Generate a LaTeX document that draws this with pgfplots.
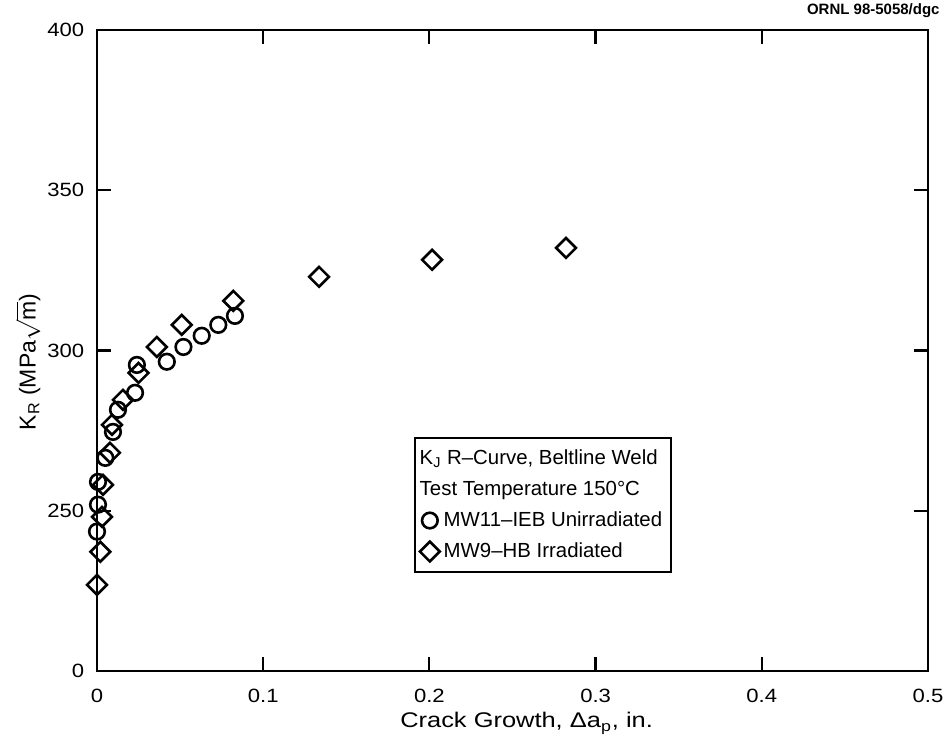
\documentclass[border=0pt]{standalone}
\usepackage{fontspec}
\setmainfont{Liberation Sans}
\newfontfamily\widefont{Liberation Sans}[FakeStretch=1.15]
\newfontfamily\labfont{Liberation Sans}[FakeStretch=1.2]
\usepackage{pgfplots}
\pgfplotsset{compat=1.18}

% legend image: a single mark, no line
\pgfplotsset{onemark/.style={legend image code/.code={\draw[##1] plot coordinates {(0pt,0pt)};}}}

% K_R resistance curves: unirradiated vs irradiated weld
\pgfplotstableread{
da      KR
0.0000  243.5
0.0006  251.9
0.0006  259.0
0.0050  266.5
0.0096  274.6
0.0126  281.5
0.0229  286.8
0.0240  295.5
0.0420  296.5
0.0520  301.1
0.0630  304.6
0.0730  308.0
0.0830  310.8
}\unirr

\pgfplotstableread{
da      KR
0.0000  226.9
0.0020  237.2
0.0030  248.1
0.0036  258.1
0.0078  268.1
0.0090  276.8
0.0156  284.6
0.0250  293.0
0.0360  301.1
0.0510  308.0
0.0820  315.5
0.1336  323.0
0.2016  328.3
0.2822  332.0
}\irr

\begin{document}
\fontsize{11}{13}\selectfont
\begin{tikzpicture}
\begin{axis}[
  scale only axis,
  width=415.5pt, height=320.5pt,
  xmin=0, xmax=0.5, ymin=200, ymax=400,
  xtick={0,0.1,0.2,0.3,0.4,0.5},
  xticklabels={0,0.1,0.2,0.3,0.4,0.5},
  ytick={200,250,300,350,400},
  yticklabels={0,250,300,350,400},
  /pgf/number format/assume math mode=true,
  tick align=inside,
  major tick length=7pt,
  axis line style={line width=1.1pt},
  every tick/.style={line width=1.1pt, black},
  ticklabel style={font=\widefont\fontsize{9.6}{11}\selectfont},
  xticklabel style={yshift=-5pt},
  yticklabel style={xshift=-2.5pt},
  xlabel={Crack Growth, Δa\textsubscript{p}, in.},
  ylabel={K\textsubscript{R} (MPa$\sqrt{\hbox{m}}$)},
  every axis x label/.style={at={(axis description cs:0.517,-0.0889)}, anchor=base,
    font=\labfont\fontsize{10.6}{13}\selectfont},
  every axis y label/.style={at={(axis description cs:-0.083,0.482)}, rotate=90, anchor=center,
    font=\fontsize{11.5}{13}\selectfont},
  legend cell align=left,
  legend style={
    at={(axis cs:0.1907,273)}, anchor=north west,
    draw=black, line width=1pt,
    font=\fontsize{10.2}{12}\selectfont,
    inner xsep=2.5pt, inner ysep=3pt,
    row sep=1pt,
    nodes={text height=8pt, text depth=2.5pt, inner sep=2pt},
  },
]
\addlegendimage{empty legend}
\addlegendentry{\hspace*{-12pt}K\textsubscript{J} R–Curve, Beltline Weld}
\addlegendimage{empty legend}
\addlegendentry{\hspace*{-12pt}Test Temperature 150°C}

\addplot[only marks, mark=o, mark size=3.9pt,
  mark options={line width=1.3pt, black}, onemark]
  table[x=da, y=KR] {\unirr};
\addlegendentry{MW11–IEB Unirradiated}

\addplot[only marks, mark=square, mark size=3.5pt,
  mark options={line width=1.3pt, black, rotate=45}, onemark]
  table[x=da, y=KR] {\irr};
\addlegendentry{MW9–HB Irradiated}

\coordinate (sw) at (rel axis cs:0,0);
\coordinate (ne) at (rel axis cs:1,1);
\end{axis}
\node[anchor=north east, inner sep=0pt, font=\fontsize{7.5}{9}\bfseries]
  at ([shift={(6pt,13.5pt)}]ne) {ORNL 98-5058/dgc};
\pgfresetboundingbox
\useasboundingbox ([shift={(-48.5pt,-36.5pt)}]sw) rectangle ([shift={(7.5pt,15pt)}]ne);
\end{tikzpicture}
\end{document}
